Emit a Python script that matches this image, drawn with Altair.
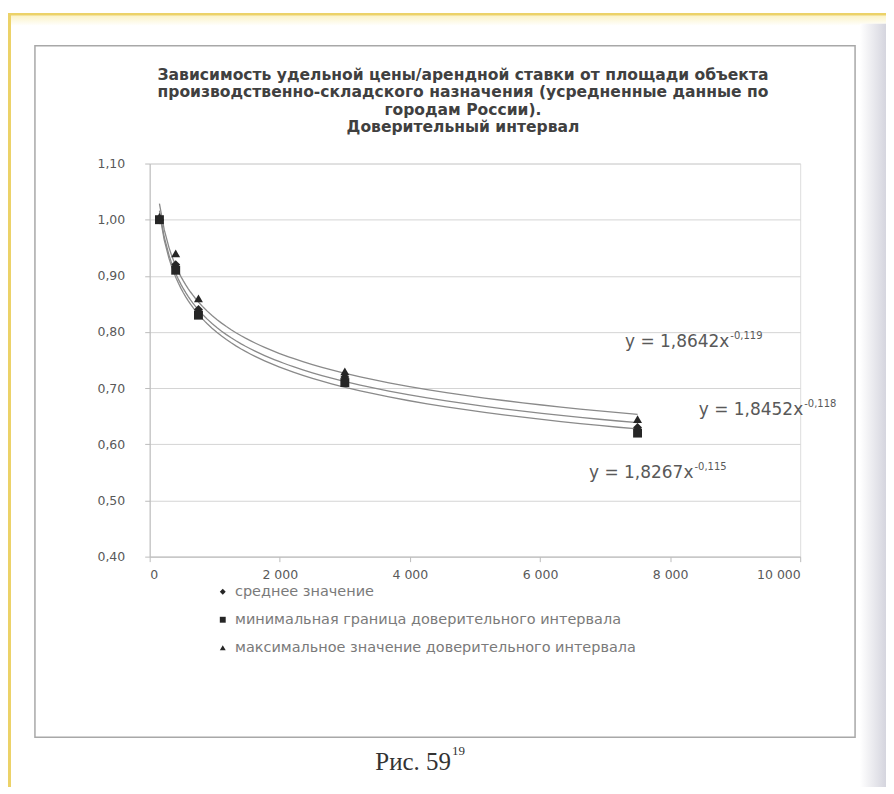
import altair as alt
import pandas as pd

# ---- data ----
area = [150, 400, 750, 3000, 7500]
mean_vals = [1.00, 0.92, 0.84, 0.72, 0.63]
min_vals = [1.00, 0.91, 0.83, 0.71, 0.62]
max_vals = [1.005, 0.94, 0.86, 0.73, 0.645]
series_names = [
    "среднее значение",
    "минимальная граница доверительного интервала",
    "максимальное значение доверительного интервала",
]
x_ticks = [0, 2000, 4000, 6000, 8000, 10000]
y_ticks = [0.40, 0.50, 0.60, 0.70, 0.80, 0.90, 1.00, 1.10]
eq_base = ["y = 1,8642x", "y = 1,8452x", "y = 1,8267x"]
eq_exp = ["-0,119", "-0,118", "-0,115"]
title_lines = [
    "Зависимость удельной цены/арендной ставки от площади объекта",
    "производственно-складского назначения  (усредненные данные по",
    "городам России).",
    "Доверительный интервал",
]
caption = "Рис. 59"
caption_sup = "19"

rows = []
for name, vals in zip(series_names, [mean_vals, min_vals, max_vals]):
    for a, v in zip(area, vals):
        rows.append({"series": name, "area": a, "value": v})
df = pd.DataFrame(rows)

one = alt.Data(values=[{"k": 1}])

def rect(x, x2, y, y2, **kw):
    return alt.Chart(one).mark_rect(**kw).encode(
        x=alt.value(x), x2=alt.value(x2), y=alt.value(y), y2=alt.value(y2)
    )

# decorative page elements (scan frame, chart box, shadow)
yellow_top = rect(-142, 744, -151, -148, fill="#ecd268")
cream_top = rect(-139, 744, -148, -138, fill=alt.LinearGradient(
    gradient="linear", x1=0, x2=0, y1=0, y2=1,
    stops=[alt.GradientStop(color="#fbf3c8", offset=0), alt.GradientStop(color="#ffffff", offset=1)]))
yellow_left = rect(-142, -139, -151, 625, fill="#ecd268")
shade = rect(712, 738, -140, 625, fill=alt.LinearGradient(
    gradient="linear", x1=0, x2=1, y1=0, y2=0,
    stops=[alt.GradientStop(color="#ffffff", offset=0), alt.GradientStop(color="#d5d5de", offset=1)]))
box = rect(-115, 707, -118, 575, fill="#ffffff", fillOpacity=0, stroke="#a8a8a8", strokeWidth=1.5)

axis_style = dict(labelFont="DejaVu Sans", labelFontSize=12.5, labelColor="#595959",
                  domainColor="#bcbcbc", tickColor="#bcbcbc", tickSize=5, gridColor="#d4d4d4")

x_enc = alt.X("area:Q", scale=alt.Scale(domain=[0, 10000], nice=False),
              axis=alt.Axis(values=x_ticks, title=None, grid=False, labelPadding=7,
                            labelExpr="replace(format(datum.value, ','), ',', ' ')", **axis_style))
y_enc = alt.Y("value:Q", scale=alt.Scale(domain=[0.4, 1.1], nice=False, zero=False),
              axis=alt.Axis(values=y_ticks, title=None, grid=True, labelPadding=20,
                            labelExpr="replace(format(datum.value, '.2f'), '.', ',')", **axis_style))

lines = alt.Chart(df).transform_regression(
    "area", "value", method="pow", groupby=["series"], extent=[150, 7500]
).mark_line(color="#8a8a8a", strokeWidth=1.3).encode(x=x_enc, y=y_enc, detail="series:N")

points = alt.Chart(df).mark_point(filled=True, color="#262626", size=80, opacity=1).encode(
    x=x_enc, y=y_enc,
    shape=alt.Shape("series:N",
                    scale=alt.Scale(domain=series_names, range=["diamond", "square", "triangle-up"]),
                    legend=alt.Legend(title=None, orient="none", legendX=66, legendY=422,
                                      direction="vertical", rowPadding=13,
                                      labelFont="DejaVu Sans", labelFontSize=14.5,
                                      labelColor="#7a7a7a", labelLimit=500, labelOffset=5,
                                      symbolSize=35, symbolFillColor="#404040",
                                      symbolStrokeColor="#404040")),
)

txt_layers = []
# chart title as text
txt_layers.append(alt.Chart(one).mark_text(
    align="center", baseline="top", font="DejaVu Sans", fontSize=15.6, fontWeight="bold",
    color="#404040", lineHeight=17.5, text=title_lines
).encode(x=alt.value(314), y=alt.value(-96)))

eq_pos = [(581, 179), (655, 247), (545, 310)]
for (bx, by), b, e in zip(eq_pos, eq_base, eq_exp):
    txt_layers.append(alt.Chart(one).mark_text(
        align="right", baseline="middle", font="DejaVu Sans", fontSize=17, color="#595959", text=b
    ).encode(x=alt.value(bx), y=alt.value(by)))
    txt_layers.append(alt.Chart(one).mark_text(
        align="left", baseline="middle", font="DejaVu Sans", fontSize=10, color="#595959", text=e
    ).encode(x=alt.value(bx + 1), y=alt.value(by - 6)))

txt_layers.append(alt.Chart(one).mark_text(
    align="right", baseline="middle", font="Liberation Serif", fontSize=25, color="#333333", text=caption
).encode(x=alt.value(302), y=alt.value(600)))
txt_layers.append(alt.Chart(one).mark_text(
    align="left", baseline="middle", font="Liberation Serif", fontSize=13, color="#333333", text=caption_sup
).encode(x=alt.value(303), y=alt.value(589)))

chart = alt.layer(
    yellow_top, cream_top, yellow_left, shade, box, lines, points, *txt_layers
).properties(
    width=652, height=394,
    autosize=alt.AutoSizeParams(type="none"),
    padding={"left": 142, "top": 155, "right": 86, "bottom": 231},
).configure_view(stroke=None).configure(background="#ffffff")

chart.save("out.html", embed_options={"renderer": "svg", "actions": False})
